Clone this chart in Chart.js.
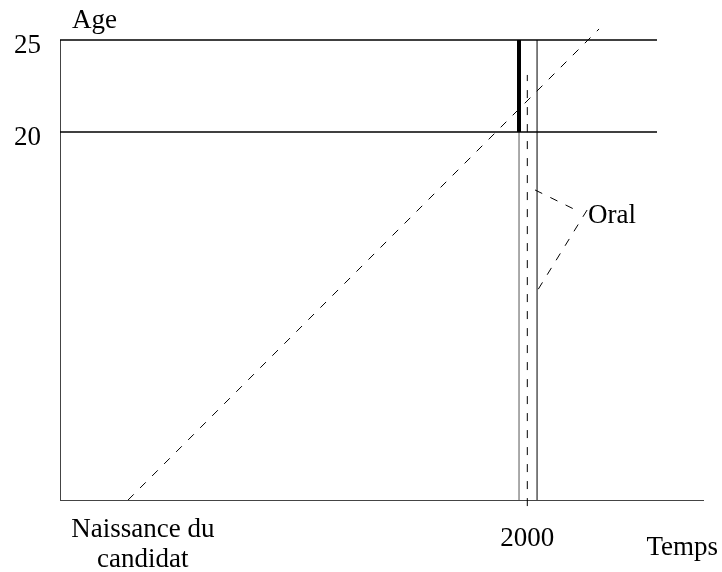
<!DOCTYPE html>
<html>
<head>
<meta charset="utf-8">
<script src="https://cdn.jsdelivr.net/npm/chart.js@4.4.1/dist/chart.umd.min.js"></script>
<style>
  body { margin: 0; background: #fff; }
</style>
</head>
<body>
<canvas id="lexis" width="722" height="572"></canvas>
<script>
// Axis ticks
const xTickValues = [1979.1, 2000];
const xTickLabels = [['Naissance du', 'candidat'], ['2000']];
const yTickValues = [20, 25];

// Lines (x = year, y = age)
const age25Line = [[1974.6, 25], [2007.05, 25]];
const age20Line = [[1974.6, 20], [2007.05, 20]];
const lifeLine = [[1978.3, 0], [2003.9, 25.6]];
const year2000Line = [[2000, -0.33], [2000, 23.1]];
const leftBoundLow = [[1999.55, 0], [1999.55, 20]];
const leftBoundHigh = [[1999.55, 20], [1999.55, 25]];
const rightBound = [[2000.53, 0], [2000.53, 25]];
const oralPointerTop = [[2000.42, 16.85], [2002.76, 15.7]];
const oralPointerBottom = [[2003.25, 15.76], [2000.37, 11.09]];
const oralLabelPos = [2003.3, 15.2];

const FONT = "'Liberation Serif', 'Times New Roman', serif";
const DASH = [8, 9];

function pts(arr) {
  return arr.map(p => ({ x: p[0], y: p[1] }));
}

function seg(data, opts) {
  return Object.assign({
    data: pts(data),
    borderColor: '#000',
    borderWidth: 1,
    pointRadius: 0,
    fill: false,
    clip: false,
    tension: 0,
  }, opts);
}

// extra texts: axis names and the "Oral" label
const textPlugin = {
  id: 'texts',
  afterDraw(chart) {
    const ctx = chart.ctx;
    const { x, y } = chart.scales;
    const area = chart.chartArea;
    ctx.save();
    ctx.fillStyle = '#000';
    ctx.font = '27px ' + FONT;
    ctx.textBaseline = 'alphabetic';
    ctx.textAlign = 'left';
    ctx.fillText('Age', area.left + 12, area.top - 12);
    ctx.fillText('Oral', x.getPixelForValue(oralLabelPos[0]), y.getPixelForValue(oralLabelPos[1]) + 3);
    ctx.textAlign = 'right';
    ctx.fillText('Temps', chart.width - 4, 555);
    ctx.restore();
  }
};

new Chart(document.getElementById('lexis'), {
  type: 'line',
  data: {
    datasets: [
      seg(age25Line, { borderWidth: 1.5 }),
      seg(age20Line, { borderWidth: 1.5 }),
      seg(lifeLine, { borderDash: DASH }),
      seg(year2000Line, { borderDash: DASH }),
      seg(leftBoundLow, { borderColor: '#555' }),
      seg(leftBoundHigh, { borderWidth: 4 }),
      seg(rightBound, {}),
      seg(oralPointerTop, { borderDash: DASH }),
      seg(oralPointerBottom, { borderDash: DASH }),
    ],
  },
  options: {
    responsive: false,
    animation: false,
    layout: { padding: { top: 40, right: 19, left: 0, bottom: 0 } },
    plugins: {
      legend: { display: false },
      tooltip: { enabled: false },
    },
    scales: {
      x: {
        type: 'linear',
        min: 1974.6,
        max: 2009.55,
        grid: { display: false },
        border: { color: '#444', width: 1 },
        afterFit: scale => { scale.height = 72; },
        afterBuildTicks: scale => {
          scale.ticks = xTickValues.map(v => ({ value: v }));
        },
        ticks: {
          padding: 7,
          maxRotation: 0,
          autoSkip: false,
          color: '#000',
          font: ctx => ({
            family: FONT,
            size: 27,
            lineHeight: ctx.index === 1 ? 48 / 27 : 30 / 27,
          }),
          callback: (value, index) => xTickLabels[index],
        },
      },
      y: {
        type: 'linear',
        min: 0,
        max: 25,
        grid: { display: false },
        border: { color: '#444', width: 1 },
        afterFit: scale => { scale.width = 60; },
        afterBuildTicks: scale => {
          scale.ticks = yTickValues.map(v => ({ value: v }));
        },
        ticks: {
          padding: 11,
          labelOffset: 6,
          color: '#000',
          font: { family: FONT, size: 27 },
          callback: value => String(value),
        },
      },
    },
  },
  plugins: [textPlugin],
});
</script>
</body>
</html>
